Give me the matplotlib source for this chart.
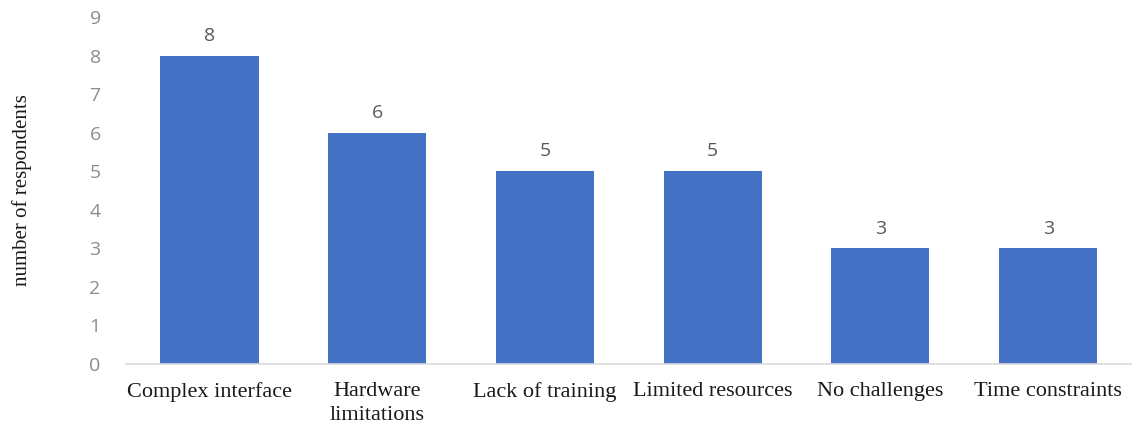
import matplotlib
matplotlib.use("Agg")
from matplotlib import pyplot as plt

categories = ["Complex interface", "Hardware\nlimitations", "Lack of training",
              "Limited resources", "No challenges", "Time constraints"]
respondents = [8, 6, 5, 5, 3, 3]
y_ticks = list(range(0, 10))

fig = plt.figure(figsize=(11.32, 4.28), dpi=100)
ax = fig.add_axes([0.111, 0.1495, 0.889, 0.8107])

x = range(len(categories))
bars = ax.bar(x, respondents, width=0.585, color="#4472c4", zorder=2)

for rect, val in zip(bars, respondents):
    ax.text(rect.get_x() + rect.get_width() / 2, val + 0.28, str(val),
            ha="center", va="bottom", fontsize=14, color="#595959",
            family="Open Sans")

ax.set_xlim(-0.5, len(categories) - 0.5)
ax.set_ylim(0, 9)
ax.set_yticks(y_ticks)
ax.set_yticklabels([str(t) for t in y_ticks], fontsize=14, color="#8c8c8c",
                   family="Open Sans")
ax.set_xticks(list(x))
ax.set_xticklabels(categories, fontsize=16, family="Liberation Serif",
                   color="#1a1a1a", linespacing=1.35)

ax.tick_params(axis="both", length=0)
ax.tick_params(axis="y", pad=18)
ax.tick_params(axis="x", pad=13)
for side in ["top", "right", "left"]:
    ax.spines[side].set_visible(False)
ax.spines["bottom"].set_color("#d9d9d9")
ax.spines["bottom"].set_linewidth(1.2)

ax.set_ylabel("number of respondents", fontsize=15, family="Liberation Serif",
              color="#1a1a1a")
ax.yaxis.set_label_coords(-0.093, 0.5)

fig.savefig("out.png", dpi=100)
